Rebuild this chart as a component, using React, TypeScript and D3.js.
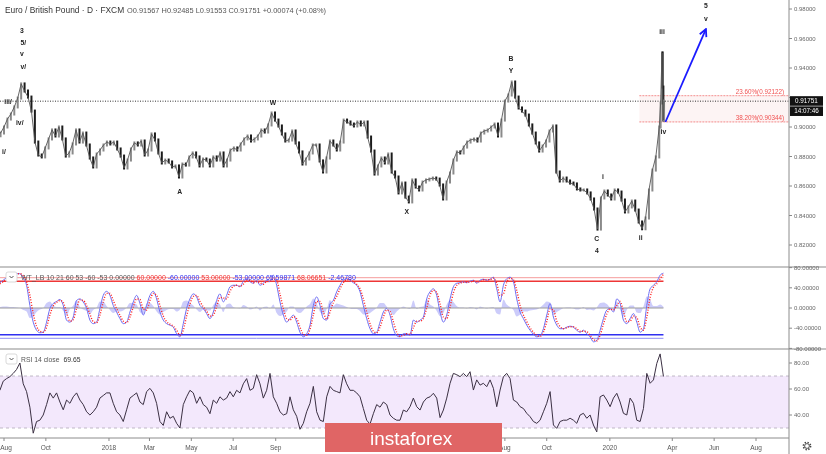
import React from 'react';
import * as d3 from 'd3';

const parseDay = d3.timeParse('%Y-%m-%d');
const DAY = 864e5;

// header
const symbolTitle = 'Euro / British Pound · D · FXCM';
const ohlcLabels = ['O', 'H', 'L', 'C'];
const ohlcValues = ['0.91567', '0.92485', '0.91553', '0.91751'];
const changeText = '+0.00074 (+0.08%)';

// EUR/GBP closes, one every 5 days
const priceStart = '2017-07-22';
const priceStepDays = 5;
const priceCloses = [
  0.894, 0.8959, 0.9, 0.9054, 0.9088, 0.9136, 0.9196, 0.9292, 0.9244, 0.9203,
  0.9108, 0.8898, 0.881, 0.8797, 0.8858, 0.8919, 0.898, 0.8939, 0.9, 0.8919,
  0.8803, 0.8824, 0.8885, 0.898, 0.8898, 0.8959, 0.8878, 0.879, 0.8729, 0.8817,
  0.8844, 0.8878, 0.8898, 0.8885, 0.8898, 0.8851, 0.8803, 0.8722, 0.8776, 0.8851,
  0.8892, 0.8878, 0.8905, 0.881, 0.8844, 0.8953, 0.8912, 0.8824, 0.8756, 0.8776,
  0.8763, 0.8729, 0.8736, 0.8661, 0.8749, 0.8742, 0.8797, 0.8824, 0.8797, 0.8736,
  0.8783, 0.8776, 0.8736, 0.8797, 0.8776, 0.8824, 0.8736, 0.8776, 0.8844, 0.8858,
  0.8844, 0.8885, 0.8919, 0.8939, 0.8905, 0.8919, 0.8939, 0.898, 0.8966, 0.9014,
  0.9095, 0.9047, 0.9007, 0.8953, 0.8905, 0.8912, 0.8973, 0.8892, 0.8831, 0.8749,
  0.8783, 0.8824, 0.8878, 0.8878, 0.877, 0.8695, 0.879, 0.8905, 0.8878, 0.8844,
  0.8898, 0.9047, 0.9034, 0.902, 0.9007, 0.9034, 0.9014, 0.9034, 0.8932, 0.8837,
  0.8681, 0.8736, 0.879, 0.8756, 0.8817, 0.8695, 0.8661, 0.8553, 0.862, 0.8525,
  0.8492, 0.8641, 0.8593, 0.8573, 0.8627, 0.8641, 0.8647, 0.8654, 0.8647, 0.8607,
  0.8512, 0.8627, 0.8688, 0.8776, 0.8831, 0.8824, 0.8864, 0.8898, 0.8912, 0.8919,
  0.8905, 0.8959, 0.8973, 0.898, 0.9, 0.902, 0.8939, 0.9047, 0.9176, 0.9217,
  0.9305, 0.9203, 0.9129, 0.9108, 0.9081, 0.9014, 0.8959, 0.8892, 0.8837, 0.8871,
  0.8905, 0.8973, 0.9007, 0.8695, 0.8634, 0.8654, 0.8634, 0.862, 0.8614, 0.858,
  0.8573, 0.8573, 0.8553, 0.8512, 0.8444, 0.8308, 0.8519, 0.8566, 0.8539, 0.8512,
  0.8573, 0.8559, 0.8505, 0.8424, 0.8458, 0.8498, 0.8437, 0.8356, 0.831, 0.8383,
  0.8573, 0.8708, 0.8797, 0.9
];
// daily closes of the last days
const tailDates = ['2020-03-15', '2020-03-17', '2020-03-18', '2020-03-19', '2020-03-20'];
const tailCloses = [0.9163, 0.9502, 0.9271, 0.9047, 0.9176];
const lastPrice = 0.91751;
const lastPriceText = '0.91751';
const timerText = '14:07:46';

// indicators, one sample every 4.86 days
const indicatorStart = '2017-07-26';
const indicatorStepDays = 4.86;
const wtFast = [
  50, 55, 60, 63, 66, 68, 68, 60, 45, 5,
  -28, -44, -49, -48, -28, -1, 9, 13, 17, 5,
  -24, -28, -18, 15, 18, 12, -1, -24, -31, -28,
  -1, 25, 33, 25, 5, -8, -21, -31, -28, -8,
  12, 25, 9, -14, 5, 25, 33, 18, -8, -24,
  -31, -34, -38, -51, -57, -31, -1, 18, 28, 22,
  5, -1, -11, -21, -8, 15, 28, 12, 25, 42,
  45, 45, 42, 53, 58, 52, 49, 55, 45, 49,
  55, 52, 65, 45, 12, -14, -28, -21, -14, -28,
  -48, -57, -51, -34, 5, 22, 5, -21, -24, 8,
  15, 32, 45, 55, 58, 55, 50, 45, 32, 5,
  -21, -41, -51, -48, -28, -8, -1, -14, -41, -55,
  -57, -51, -51, -54, -24, -28, -24, -18, 18, 32,
  38, 25, -8, -28, -14, 18, 42, 49, 50, 52,
  50, 53, 55, 49, 55, 57, 55, 57, 61, 38,
  12, 45, 58, 61, 52, 18, -8, -21, -34, -44,
  -52, -57, -55, -41, -14, 9, -18, -34, -41, -41,
  -38, -36, -38, -44, -48, -44, -51, -57, -67, -64,
  -44, -21, -4, -1, -8, 18, 9, -24, -31, -21,
  -11, -28, -48, -41, 5, 38, 45, 52, 65, 69
];
const wtSlow = [
  48, 52, 57, 61, 64, 67, 68, 64, 52, 25,
  -11, -36, -46, -48, -38, -14, 4, 11, 15, 11,
  -9, -26, -23, -1, 16, 15, 5, -12, -27, -29,
  -14, 12, 29, 29, 15, -1, -14, -26, -29, -18,
  2, 18, 17, -2, -4, 15, 29, 25, 5, -16,
  -27, -32, -36, -44, -54, -44, -16, 8, 23, 25,
  13, 2, -6, -16, -14, 3, 21, 20, 18, 33,
  43, 45, 43, 47, 55, 55, 50, 52, 50, 47,
  52, 53, 58, 55, 28, -1, -21, -24, -17, -21,
  -38, -52, -54, -42, -14, 13, 13, -8, -22, -8,
  11, 23, 38, 50, 56, 56, 52, 47, 38, 18,
  -8, -31, -46, -49, -38, -18, -4, -7, -27, -48,
  -56, -54, -51, -52, -39, -26, -26, -21, 0, 25,
  35, 31, 8, -18, -21, 2, 30, 45, 49, 51,
  51, 51, 54, 52, 52, 56, 56, 56, 59, 49,
  25, 28, 51, 59, 56, 35, 5, -14, -27, -39,
  -48, -54, -56, -48, -27, -2, -4, -26, -37, -41,
  -39, -37, -37, -41, -46, -46, -47, -54, -62, -65,
  -54, -32, -12, -2, -4, 5, 13, -7, -27, -26,
  -16, -19, -38, -44, -18, 21, 41, 48, 58, 67
];
const rsiValues = [
  59, 66, 68, 69.5, 72, 75, 80, 64, 58, 46,
  26, 35, 36, 40, 48, 57, 53, 57, 50, 44,
  51.5, 49, 54, 57, 51.5, 48, 42.5, 40, 42.5, 46,
  53, 55, 57, 57, 49, 42.5, 40, 35, 44, 53,
  55, 57, 50, 48, 58, 60.5, 57, 49, 35, 32,
  42.5, 37.5, 39, 33.6, 30, 48, 54, 59, 57, 49,
  54, 48, 46, 41, 51.5, 49, 54, 51.5, 53, 58,
  54, 59, 57, 64, 68, 59, 60.5, 71, 64, 53,
  59, 72, 54, 49, 42.5, 40, 41, 54, 44, 39,
  29, 33.6, 42.5, 49, 62, 42.5, 36, 35, 54, 62,
  59, 58, 57, 71, 64, 59, 59, 57, 54, 45,
  36, 33, 41, 48, 46, 50, 48, 40, 37.5, 36,
  36, 43.8, 42.5, 46.4, 53, 46.4, 43.8, 50, 53, 54,
  56.7, 53, 38, 43.8, 53, 64.4, 72, 71, 69.5, 72,
  69.5, 73.3, 59.2, 67, 63, 64.4, 61.8, 67, 60.5, 46.4,
  59.2, 69.5, 72, 68, 51.5, 50, 46.4, 45, 41.3, 38.7,
  35, 33.6, 36, 42.5, 49, 58, 32.3, 29.7, 35, 36,
  36, 37.5, 36, 33.6, 40, 41.3, 37.5, 40, 32.3, 27,
  54, 55.4, 51.5, 46.4, 53, 56.7, 50, 41.3, 40, 53,
  49, 36, 35, 45, 72, 64.4, 67, 79.7, 87, 69.65
];

// WT legend
const wtLegendName = 'WT_LB 10 21 60 53 -60 -53 0.00000';
const wtLegendValues = ['60.00000', '-60.00000', '53.00000', '-53.00000', '65.59871', '68.06651', '-2.46780'];
const wtLegendColors = ['#f23030', '#2e2ef0', '#f23030', '#2e2ef0', '#2e2ef0', '#f23030', '#2e2ef0'];
const wtLevels = [60, 53, -53, -60];
const wtLevelColors = ['#f59a9a', '#ee3535', '#2f2ff0', '#8d8df7'];
const rsiLegend = 'RSI 14 close';
const rsiLegendValue = '69.65';
const rsiBand = [70, 30];

// axes
const priceTicks = [0.98, 0.96, 0.94, 0.92, 0.9, 0.88, 0.86, 0.84, 0.82];
const wtTicks = [80, 40, 0, -40, -80];
const rsiTicks = [80, 60, 40];
const monthTickDates = ['2017-08-01', '2017-10-01', '2018-01-01', '2018-03-01', '2018-05-01', '2018-07-01', '2018-09-01',
  '2019-08-01', '2019-10-01', '2020-01-01', '2020-04-01', '2020-06-01', '2020-08-01'];
const monthTickLabels = ['Aug', 'Oct', '2018', 'Mar', 'May', 'Jul', 'Sep', 'Aug', 'Oct', '2020', 'Apr', 'Jun', 'Aug'];

// wave count annotations
const waveTexts = ['3', '5/', 'v', 'v/', 'iii/', 'iv/', 'i/', 'A', 'W', 'X', 'B', 'Y', 'C', '4', 'i', 'ii', 'iii', 'iv', '5', 'v'];
const waveDates = ['2017-08-27', '2017-08-29', '2017-08-27', '2017-08-29', '2017-08-07', '2017-08-24', '2017-08-01',
  '2018-04-14', '2018-08-28', '2019-03-11', '2019-08-10', '2019-08-10', '2019-12-13', '2019-12-13', '2019-12-22',
  '2020-02-15', '2020-03-17', '2020-03-19', '2020-05-20', '2020-05-20'];
const wavePrices = [0.9651, 0.9569, 0.9495, 0.941, 0.9172, 0.9027, 0.8831,
  0.8559, 0.9163, 0.8424, 0.9461, 0.938, 0.8241, 0.8159, 0.8661,
  0.8247, 0.9644, 0.8966, 0.982, 0.9732];

// fibonacci retracements and projected move
const fibLevels = [0.92122, 0.90344];
const fibLabels = ['23.60%(0.92122)', '38.20%(0.90344)'];
const fibStart = '2020-02-13';
const arrowDates = ['2020-03-22', '2020-05-20'];
const arrowPrices = [0.9034, 0.9664];

const FONT = '"Liberation Sans", Arial, sans-serif';

export default function App() {
  const W = 826;
  const H = 454;
  const plotRight = 789;
  const mainBottom = 267;
  const wtBottom = 349;
  const rsiBottom = 438;

  const x = d3.scaleTime()
    .domain([parseDay('2017-08-01') as Date, parseDay('2020-08-01') as Date])
    .range([4, 756]);
  const yPrice = d3.scaleLinear().domain([0.82, 0.98]).range([245, 9]);
  const yWt = d3.scaleLinear().domain([-60, 60]).range([338.3, 277.7]);
  const yRsi = d3.scaleLinear().domain([30, 70]).range([428, 376]);

  const pStart = (parseDay(priceStart) as Date).getTime();
  const pricePts: [Date, number][] = priceCloses
    .map((v, i) => [new Date(pStart + i * priceStepDays * DAY), v] as [Date, number])
    .concat(tailDates.map((d, i) => [parseDay(d) as Date, tailCloses[i]] as [Date, number]));
  const priceLine = d3.line<[Date, number]>().x(d => x(d[0])).y(d => yPrice(d[1]));
  // bar from previous close to this close, a little padded like a high/low range
  const priceBars = pricePts.slice(1).map((d, i) => {
    const prev = pricePts[i][1];
    const yA = yPrice(Math.max(prev, d[1])) - 1.5;
    const yB = yPrice(Math.min(prev, d[1])) + 1.5;
    return { x: x(d[0]), y1: yA, y2: yB, up: d[1] >= prev };
  });

  const iStart = (parseDay(indicatorStart) as Date).getTime();
  const iDate = (i: number) => new Date(iStart + i * indicatorStepDays * DAY);
  const lastX = x(iDate(wtFast.length - 1));

  const wtFastLine = d3.line<number>().x((d, i) => x(iDate(i))).y(d => yWt(d)).curve(d3.curveMonotoneX);
  const wtSlowLine = d3.line<number>().x((d, i) => x(iDate(i))).y(d => yWt(d)).curve(d3.curveMonotoneX);
  const wtHist = d3.area<number>()
    .x((d, i) => x(iDate(i)))
    .y0(yWt(0))
    .y1((d, i) => yWt(d - wtSlow[i]))
    .curve(d3.curveMonotoneX);
  const rsiLine = d3.line<number>().x((d, i) => x(iDate(i))).y(d => yRsi(d));

  const fibX0 = x(parseDay(fibStart) as Date);
  const lastY = yPrice(lastPrice);

  const ax0 = x(parseDay(arrowDates[0]) as Date);
  const ay0 = yPrice(arrowPrices[0]);
  const ax1 = x(parseDay(arrowDates[1]) as Date);
  const ay1 = yPrice(arrowPrices[1]);

  return (
    <svg width={W} height={H} style={{ position: 'absolute', left: 0, top: 0, background: '#fff' }} fontFamily={FONT}>
      <defs>
        <clipPath id="clipMain"><rect x={0} y={0} width={plotRight} height={mainBottom} /></clipPath>
        <clipPath id="clipWt"><rect x={0} y={mainBottom} width={plotRight} height={wtBottom - mainBottom} /></clipPath>
        <clipPath id="clipRsi"><rect x={0} y={wtBottom} width={plotRight} height={rsiBottom - wtBottom} /></clipPath>
        <marker id="arrowHead" viewBox="0 0 10 10" refX={9} refY={5} markerWidth={5} markerHeight={5} orient="auto">
          <path d="M1,1 L9,5 L1,9" fill="none" stroke="#1a1aff" strokeWidth={2} />
        </marker>
      </defs>

      <g opacity={0.995}>
        {/* header */}
        <text x={5} y={12.5} fontSize={8.4} fill="#333">{symbolTitle}</text>
        <text x={127} y={12.5} fontSize={7.4} fill="#555">
          {ohlcLabels.map((l, i) => (
            <tspan key={l}>{l}{ohlcValues[i]}{' '}</tspan>
          ))}
          <tspan>{changeText}</tspan>
        </text>

        {/* main pane */}
        <g clipPath="url(#clipMain)">
          <rect x={fibX0} y={yPrice(fibLevels[0])} width={plotRight - fibX0}
            height={yPrice(fibLevels[1]) - yPrice(fibLevels[0])} fill="#fdf4f4" />
          {fibLevels.map(f => (
            <line key={f} x1={fibX0} x2={plotRight} y1={yPrice(f)} y2={yPrice(f)}
              stroke="#f07070" strokeWidth={0.8} strokeDasharray="2,1" />
          ))}
          <line x1={0} x2={plotRight} y1={lastY} y2={lastY} stroke="#333" strokeWidth={1} strokeDasharray="1,1.5" />
          {priceBars.map((b, i) => (
            <line key={i} x1={b.x} x2={b.x} y1={b.y1} y2={b.y2}
              stroke={b.up ? '#8a8a8a' : '#1a1a1a'} strokeWidth={2} />
          ))}
          <path d={priceLine(pricePts) || ''} fill="none" stroke="#555" strokeWidth={0.9} />
          {fibLabels.map((t, i) => (
            <text key={t} x={784} y={yPrice(fibLevels[i]) - 2} fontSize={6.3} fill="#f05050" textAnchor="end">{t}</text>
          ))}
          {waveTexts.map((t, i) => (
            <text key={i} x={x(parseDay(waveDates[i]) as Date)} y={yPrice(wavePrices[i])} dy="0.35em"
              fontSize={6.8} fontWeight={700} fill="#222" textAnchor="middle">{t}</text>
          ))}
          <line x1={ax0} y1={ay0} x2={ax1} y2={ay1} stroke="#1a1aff" strokeWidth={1.8} markerEnd="url(#arrowHead)" />
        </g>

        {/* WT pane */}
        <g clipPath="url(#clipWt)">
          <path d={wtHist(wtFast) || ''} fill="rgba(110,110,240,0.35)" stroke="none" />
          <line x1={0} x2={lastX} y1={yWt(0)} y2={yWt(0)} stroke="#9a9a9a" strokeWidth={1} />
          {wtLevels.map((l, i) => (
            <line key={l} x1={0} x2={lastX} y1={yWt(l)} y2={yWt(l)} stroke={wtLevelColors[i]}
              strokeWidth={Math.abs(l) === 53 ? 1.3 : 1} />
          ))}
          <path d={wtFastLine(wtFast) || ''} fill="none" stroke="#6b6bf2" strokeWidth={1} />
          <path d={wtSlowLine(wtSlow) || ''} fill="none" stroke="#ff2020" strokeWidth={1.4} strokeDasharray="1,1.6" />
        </g>
        <rect x={6} y={272} width={11} height={10} rx={2} fill="#fff" stroke="#cfcfcf" strokeWidth={0.8} />
        <path d="M9.5,276 L11.5,278 L13.5,276" fill="none" stroke="#444" strokeWidth={0.9} />
        <text x={21} y={279.5} fontSize={7} fill="#555">
          <tspan>{wtLegendName}</tspan>
          {wtLegendValues.map((v, i) => (
            <tspan key={i} fill={wtLegendColors[i]}>{' '}{v}</tspan>
          ))}
        </text>

        {/* RSI pane */}
        <g clipPath="url(#clipRsi)">
          <rect x={0} y={yRsi(rsiBand[0])} width={plotRight} height={yRsi(rsiBand[1]) - yRsi(rsiBand[0])} fill="#f3e8fc" />
          {rsiBand.map(b => (
            <line key={b} x1={0} x2={plotRight} y1={yRsi(b)} y2={yRsi(b)} stroke="#b0a8b8" strokeWidth={0.8} strokeDasharray="3,3" />
          ))}
          <path d={rsiLine(rsiValues) || ''} fill="none" stroke="#3a2f42" strokeWidth={1} />
        </g>
        <rect x={6} y={354} width={11} height={10} rx={2} fill="#fff" stroke="#cfcfcf" strokeWidth={0.8} />
        <path d="M9.5,358 L11.5,360 L13.5,358" fill="none" stroke="#444" strokeWidth={0.9} />
        <text x={21} y={361.5} fontSize={6.8} fill="#555">
          {rsiLegend}<tspan dx={4} fill="#333">{rsiLegendValue}</tspan>
        </text>

        {/* separators and axes */}
        <line x1={0} x2={W} y1={mainBottom} y2={mainBottom} stroke="#8c8c8c" strokeWidth={1.2} />
        <line x1={0} x2={W} y1={wtBottom} y2={wtBottom} stroke="#8c8c8c" strokeWidth={1.2} />
        <line x1={0} x2={plotRight} y1={rsiBottom} y2={rsiBottom} stroke="#8c8c8c" strokeWidth={1} />
        <line x1={plotRight} x2={plotRight} y1={0} y2={H} stroke="#8c8c8c" strokeWidth={1} />

        {priceTicks.map(t => (
          <g key={t}>
            <line x1={plotRight} x2={plotRight + 3} y1={yPrice(t)} y2={yPrice(t)} stroke="#888" />
            {Math.abs(yPrice(t) - lastY) > 9 && (
              <text x={794} y={yPrice(t)} dy="0.35em" fontSize={6} fill="#666">{t.toFixed(5)}</text>
            )}
          </g>
        ))}
        {wtTicks.map(t => (
          <g key={t}>
            <line x1={plotRight} x2={plotRight + 3} y1={yWt(t)} y2={yWt(t)} stroke="#888" />
            <text x={794} y={yWt(t)} dy="0.35em" fontSize={6} fill="#666">{t.toFixed(5)}</text>
          </g>
        ))}
        {rsiTicks.map(t => (
          <g key={t}>
            <line x1={plotRight} x2={plotRight + 3} y1={yRsi(t)} y2={yRsi(t)} stroke="#888" />
            <text x={794} y={yRsi(t)} dy="0.35em" fontSize={6} fill="#666">{t.toFixed(2)}</text>
          </g>
        ))}
        {monthTickDates.map((d, i) => {
          const tx = x(parseDay(d) as Date);
          return (
            <g key={d}>
              <line x1={tx} x2={tx} y1={rsiBottom} y2={rsiBottom + 3} stroke="#888" />
              <text x={Math.max(tx, 6)} y={450} fontSize={6.5} fill="#555" textAnchor="middle">{monthTickLabels[i]}</text>
            </g>
          );
        })}

        {/* last price tag */}
        <rect x={790} y={lastY - 5} width={33} height={9.6} fill="#111" />
        <text x={806.5} y={lastY} dy="0.35em" fontSize={6.3} fill="#fff" textAnchor="middle">{lastPriceText}</text>
        <rect x={790} y={lastY + 5.2} width={33} height={9.6} fill="#111" />
        <text x={806.5} y={lastY + 10} dy="0.35em" fontSize={6.3} fill="#fff" textAnchor="middle">{timerText}</text>

        {/* settings gear */}
        <circle cx={807} cy={446} r={3.6} fill="none" stroke="#444" strokeWidth={1.6} strokeDasharray="1.4,1.43" />
        <circle cx={807} cy={446} r={2.4} fill="#fff" stroke="#444" strokeWidth={0.9} />

        {/* watermark */}
        <rect x={325} y={423} width={177} height={29} fill="#e06464" />
        <text x={370} y={445} fontSize={19} fill="#fff">instaforex</text>
      </g>
    </svg>
  );
}
